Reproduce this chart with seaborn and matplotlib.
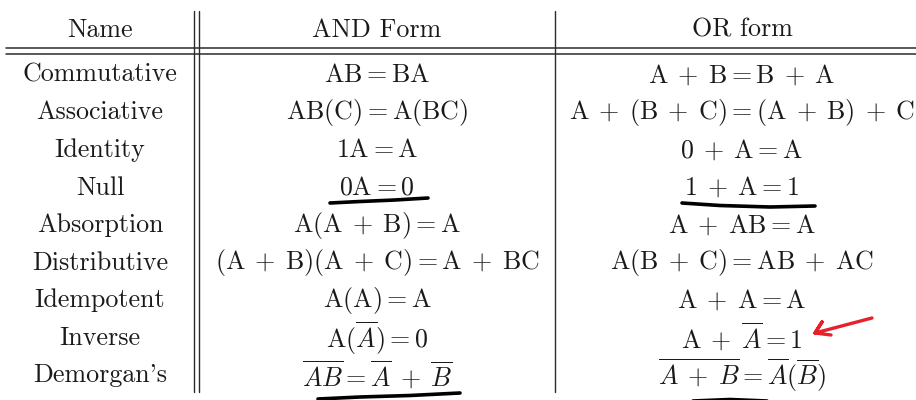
import numpy as np
import pandas as pd
import matplotlib
matplotlib.use('Agg')
import matplotlib.pyplot as plt
import seaborn as sns

# table content
headers = ['Name', 'AND Form', 'OR form']
names = ['Commutative', 'Associative', 'Identity', 'Null', 'Absorption',
         'Distributive', 'Idempotent', 'Inverse', "Demorgan's"]
and_forms = [r'$\mathrm{AB} = \mathrm{BA}$',
             r'$\mathrm{AB(C)} = \mathrm{A(BC)}$',
             r'$\mathrm{1A} = \mathrm{A}$',
             r'$\mathrm{0A} = 0$',
             r'$\mathrm{A(A} + \mathrm{B)} = \mathrm{A}$',
             r'$\mathrm{(A} + \mathrm{B)(A} + \mathrm{C)} = \mathrm{A} + \mathrm{BC}$',
             r'$\mathrm{A(A)} = \mathrm{A}$',
             r'$\mathrm{A}(\overline{A}) = 0$',
             r'$\overline{AB} = \overline{A} + \overline{B}$']
or_forms = [r'$\mathrm{A} + \mathrm{B} = \mathrm{B} + \mathrm{A}$',
            r'$\mathrm{A} + \mathrm{(B} + \mathrm{C)} = \mathrm{(A} + \mathrm{B)} + \mathrm{C}$',
            r'$0 + \mathrm{A} = \mathrm{A}$',
            r'$1 + \mathrm{A} = 1$',
            r'$\mathrm{A} + \mathrm{AB} = \mathrm{A}$',
            r'$\mathrm{A(B} + \mathrm{C)} = \mathrm{AB} + \mathrm{AC}$',
            r'$\mathrm{A} + \mathrm{A} = \mathrm{A}$',
            r'$\mathrm{A} + \overline{A} = 1$',
            r'$\overline{A + B} = \overline{A}(\overline{B})$']

# hand drawn marks (pixel space of the screenshot)
null_and_x = [330, 360, 395, 428]
null_and_y = [203, 201.5, 200, 198]
null_or_x = [682, 720, 770, 815]
null_or_y = [203, 205.5, 207, 206]
dem_and_x = [318, 360, 410, 460]
dem_and_y = [399, 397, 395.5, 393]
dem_or_x = [693, 730, 767]
dem_or_y = [401, 399.5, 401]
arrow_x = [872, 815, 822, 815, 831]
arrow_y = [318, 333, 322, 333, 335]


def latex_spacing(s):
    # mathtext packs "+" tighter than LaTeX does
    return s.replace(' + ', r'\hspace{0.25}+\hspace{0.25}')


sns.set_theme(style='white')
plt.rcParams['mathtext.fontset'] = 'cm'
plt.rcParams['font.family'] = ['cmr10', 'DejaVu Sans']

fig = plt.figure(figsize=(9.16, 4.0), dpi=100)
ax = fig.add_axes([0, 0, 1, 1])
ax.set_xlim(0, 916)
ax.set_ylim(400, 0)
ax.axis('off')

fs = 18.7
tc = '#1a1a1a'
col_x = [100, 377, 742]
row_y = 75 + 37.55 * np.arange(len(names))

for cx, h in zip(col_x, headers):
    ax.text(cx, 30, h, ha='center', va='center', fontsize=fs, color=tc)

for i in range(len(names)):
    ax.text(col_x[0], row_y[i], names[i], ha='center', va='center', fontsize=fs, color=tc)
    ax.text(col_x[1], row_y[i], latex_spacing(and_forms[i]), ha='center', va='center', fontsize=fs, color=tc)
    ax.text(col_x[2], row_y[i], latex_spacing(or_forms[i]), ha='center', va='center', fontsize=fs, color=tc)

# rules
lc = '#2b2b2b'
for yy in (48, 54):
    ax.plot([6, 916], [yy, yy], color=lc, lw=1.1)
for xx in (193.5, 198.5):
    ax.plot([xx, xx], [11, 392], color=lc, lw=1.0)
ax.plot([555, 555], [11, 392], color=lc, lw=1.0)

# annotations
for xs, ys in [(null_and_x, null_and_y), (null_or_x, null_or_y),
               (dem_and_x, dem_and_y), (dem_or_x, dem_or_y)]:
    ax.plot(xs, ys, color='black', lw=2.6, solid_capstyle='round', solid_joinstyle='round')
ax.plot(arrow_x, arrow_y, color='#e8202a', lw=2.4, solid_capstyle='round', solid_joinstyle='round')

fig.savefig('out.png', dpi=100, facecolor='white')
